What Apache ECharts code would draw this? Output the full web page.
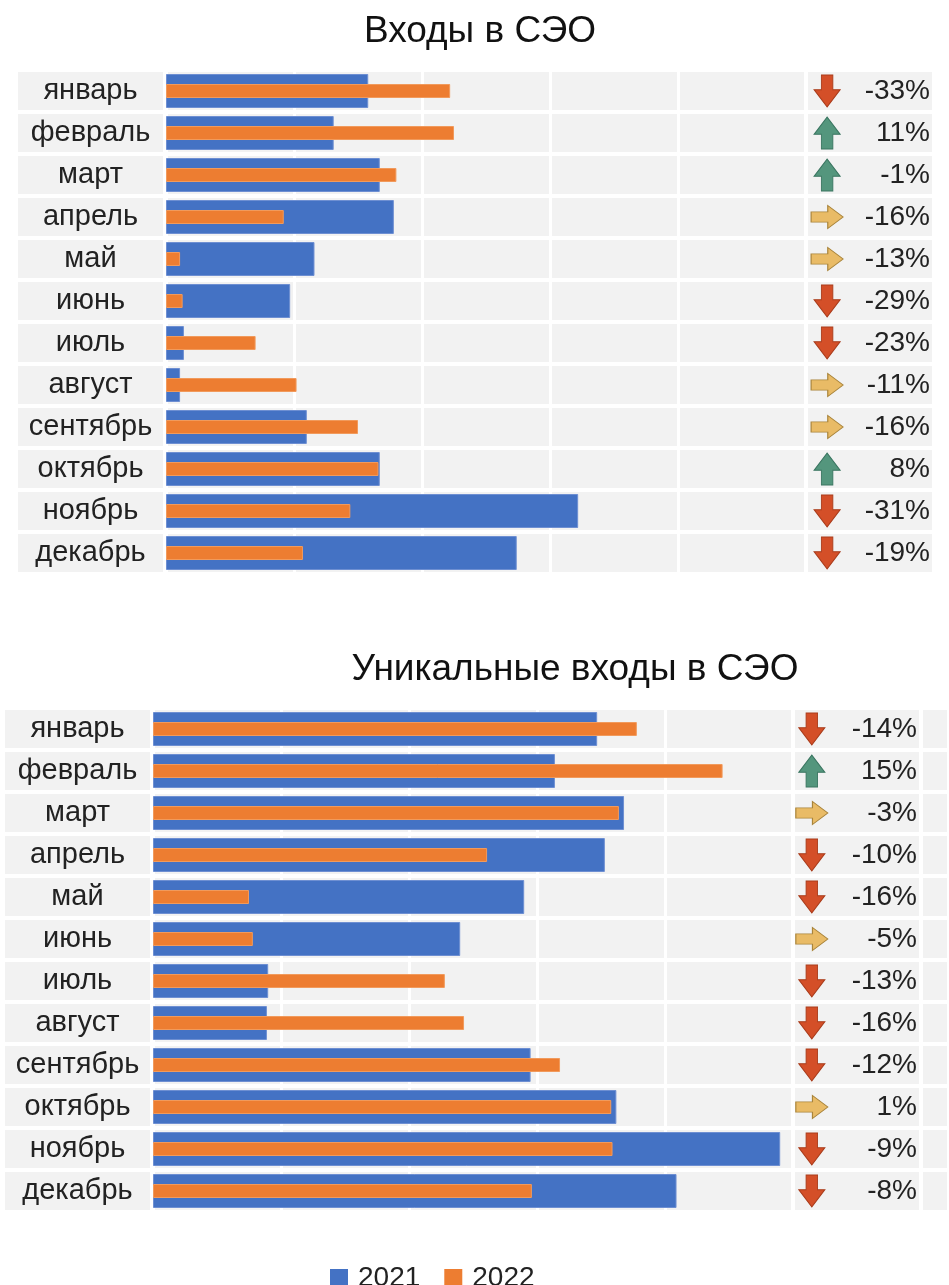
<!DOCTYPE html>
<html>
<head>
<meta charset="utf-8">
<script src="https://cdn.jsdelivr.net/npm/echarts@6/dist/echarts.min.js"></script>
<style>
  html, body { margin: 0; padding: 0; background: #fff; }
  #chart { width: 949px; height: 1285px; }
</style>
</head>
<body>
<div id="chart"></div>
<script>
// ---------- DATA ----------
const months = ['январь','февраль','март','апрель','май','июнь','июль','август','сентябрь','октябрь','ноябрь','декабрь'];
const seriesNames = ['2021', '2022'];

// Chart 1: "Входы в СЭО"
const visits2021 = [158, 131, 167, 178, 116, 97, 14, 11, 110, 167, 322, 274];
const visits2022 = [222, 225, 180, 92, 11, 13, 70, 102, 150, 166, 144, 107];
const visitsPct   = ['-33%','11%','-1%','-16%','-13%','-29%','-23%','-11%','-16%','8%','-31%','-19%'];
const visitsTrend = ['down','up','up','right','right','down','down','right','right','up','down','down'];

// Chart 2: "Уникальные входы в СЭО"
const unique2021 = [347, 314, 368, 353, 290, 240, 90, 89, 295, 362, 490, 409];
const unique2022 = [378, 445, 364, 261, 75, 78, 228, 243, 318, 358, 359, 296];
const uniquePct   = ['-14%','15%','-3%','-10%','-16%','-5%','-13%','-16%','-12%','1%','-9%','-8%'];
const uniqueTrend = ['down','up','right','down','down','right','down','down','down','right','down','down'];

// ---------- STYLE ----------
const FONT = "'Liberation Sans', Arial, sans-serif";
const TEXT = '#222222';
const GREY = '#f2f2f2';
const BLUE = '#4472c4';
const ORANGE = '#ed7d31';

const ARROWS = {
  down:  { path: 'path://M28,0 L72,0 L72,46 L100,46 L50,100 L0,46 L28,46 Z', size: [26, 32], color: '#d44f28', border: '#a93c1b' },
  up:    { path: 'path://M28,100 L72,100 L72,54 L100,54 L50,0 L0,54 L28,54 Z', size: [26, 32], color: '#54967d', border: '#3a7560' },
  right: { path: 'path://M0,28 L52,28 L52,0 L100,50 L52,100 L52,72 L0,72 Z', size: [32, 23], color: '#e9bb66', border: '#a9843a' }
};

const chart = echarts.init(document.getElementById('chart'), null, { renderer: 'canvas' });

function rowAxis(gridIndex, extra) {
  return Object.assign({
    type: 'category', gridIndex: gridIndex, data: months, inverse: true,
    axisLine: { show: false }, axisTick: { show: false },
    axisLabel: { show: false },
    splitLine: { show: true, interval: 0, lineStyle: { color: '#ffffff', width: 4 } }
  }, extra || {});
}
function overlayAxis(gridIndex) {
  return {
    type: 'category', gridIndex: gridIndex, data: months, inverse: true, show: false,
    axisLine: { show: false }, axisTick: { show: false }, axisLabel: { show: false },
    splitLine: { show: false }
  };
}
function valAxis(gridIndex, max, interval, lineW) {
  return {
    type: 'value', gridIndex: gridIndex, min: 0, max: max, interval: interval,
    axisLine: { show: false }, axisTick: { show: false }, axisLabel: { show: false },
    splitLine: { show: lineW > 0, lineStyle: { color: '#ffffff', width: lineW } }
  };
}
const monthLabel = {
  show: true, inside: true, interval: 0, margin: 72.5, align: 'center',
  padding: [4, 0, 0, 0],
  fontSize: 29, fontFamily: FONT, color: TEXT
};
function pctLabel(arr) {
  return { show: true, inside: true, interval: 0, margin: 4, padding: [7, 0, 0, 0],
           formatter: (v, i) => arr[i], fontSize: 28, fontFamily: FONT, color: TEXT };
}
function arrowData(trend, xPos) {
  return trend.map((t, i) => ({
    value: [xPos, months[i]],
    symbol: ARROWS[t].path,
    symbolSize: ARROWS[t].size,
    itemStyle: { color: ARROWS[t].color, borderColor: ARROWS[t].border, borderWidth: 1, opacity: 1 }
  }));
}
function barPair(xi, yiMain, yiOver, a, b) {
  return [
    { name: seriesNames[0], type: 'bar', xAxisIndex: xi, yAxisIndex: yiMain, data: a,
      barWidth: 34, itemStyle: { color: BLUE, borderColor: '#6e8fd2', borderWidth: 1 }, silent: true },
    { name: seriesNames[1], type: 'bar', xAxisIndex: xi, yAxisIndex: yiOver, data: b,
      barWidth: 14, itemStyle: { color: ORANGE, borderColor: '#f19a5c', borderWidth: 1 }, silent: true, z: 3 }
  ];
}
function g(left, top, width) {
  return { left: left, top: top, width: width, height: 504, show: true, backgroundColor: GREY, borderWidth: 0 };
}

const option = {
  backgroundColor: '#ffffff',
  animation: false,
  title: [
    { text: 'Входы в СЭО', left: 475, top: 8, textAlign: 'center',
      textStyle: { fontSize: 37, fontWeight: 'normal', fontFamily: FONT, color: '#111' } },
    { text: 'Уникальные входы в СЭО', left: 570, top: 646, textAlign: 'center',
      textStyle: { fontSize: 37, fontWeight: 'normal', fontFamily: FONT, color: '#111' } }
  ],
  legend: {
    data: seriesNames, left: 325, top: 1259, itemWidth: 18, itemHeight: 18, itemGap: 24,
    icon: 'rect', selectedMode: false,
    itemStyle: { borderWidth: 0 },
    textStyle: { fontSize: 28, fontFamily: FONT, color: TEXT, padding: [0, 0, 0, 5] }
  },
  grid: [
    g(18, 70, 145),   // 0 top labels
    g(166, 70, 640),  // 1 top plot
    g(806, 70, 128),  // 2 top icons
    g(5, 708, 145),   // 3 bottom labels
    g(153, 708, 640), // 4 bottom plot
    g(793, 708, 128), // 5 bottom icons
    g(921, 708, 60)   // 6 bottom extra
  ],
  xAxis: [
    valAxis(0, 1, 1, 0),
    valAxis(1, 500, 100, 3),
    valAxis(2, 1, 1, 4),
    valAxis(3, 1, 1, 0),
    valAxis(4, 500, 100, 3),
    valAxis(5, 1, 1, 4),
    valAxis(6, 1, 1, 4)
  ],
  yAxis: [
    rowAxis(0, { position: 'left', axisLabel: monthLabel }),        // 0
    rowAxis(1),                                                       // 1
    overlayAxis(1),                                                   // 2
    rowAxis(2, { position: 'right', axisLabel: pctLabel(visitsPct) }),// 3
    rowAxis(3, { position: 'left', axisLabel: monthLabel }),        // 4
    rowAxis(4),                                                       // 5
    overlayAxis(4),                                                   // 6
    rowAxis(5, { position: 'right', axisLabel: pctLabel(uniquePct) }),// 7
    rowAxis(6)                                                        // 8
  ],
  series: [
    ...barPair(1, 1, 2, visits2021, visits2022),
    { type: 'scatter', xAxisIndex: 2, yAxisIndex: 3, data: arrowData(visitsTrend, 0.165), silent: true },
    ...barPair(4, 5, 6, unique2021, unique2022),
    { type: 'scatter', xAxisIndex: 5, yAxisIndex: 7, data: arrowData(uniqueTrend, 0.147), silent: true }
  ]
};
chart.setOption(option);
</script>
</body>
</html>
